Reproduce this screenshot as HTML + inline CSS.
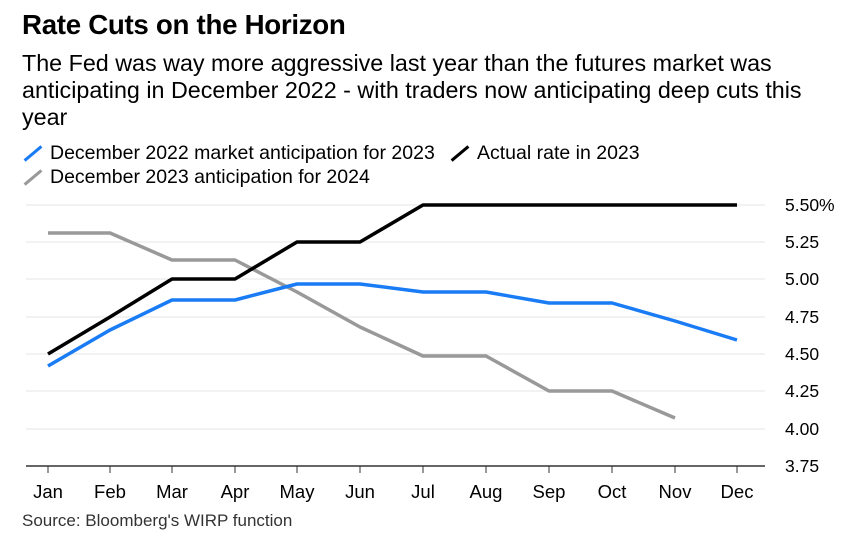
<!DOCTYPE html>
<html><head><meta charset="utf-8"><style>
body{margin:0;background:#fff;font-family:"Liberation Sans",Arial,sans-serif;}
.wrap{position:relative;width:860px;height:542px;overflow:hidden;}
h1{position:absolute;left:22px;top:9px;margin:0;font-size:27.7px;font-weight:bold;color:#000;letter-spacing:-0.3px}
.sub{position:absolute;left:22px;top:50px;width:815px;font-size:23.3px;line-height:27px;color:#000}
.leg{position:absolute;font-size:19.5px;color:#000}
.leg i{display:inline-block;width:22px;height:3px;transform:rotate(-40deg);margin-right:6px;vertical-align:middle}
</style></head><body><div class="wrap">
<h1>Rate Cuts on the Horizon</h1>
<div class="sub">The Fed was way more aggressive last year than the futures market was anticipating in December 2022 - with traders now anticipating deep cuts this year</div>
<div class="leg" style="left:22px;top:142px"><i style="background:#1a7cf5"></i>December 2022 market anticipation for 2023</div>
<div class="leg" style="left:449px;top:142px"><i style="background:#000"></i>Actual rate in 2023</div>
<div class="leg" style="left:22px;top:166px"><i style="background:#999"></i>December 2023 anticipation for 2024</div>
<svg width="860" height="542" style="position:absolute;left:0;top:0" font-family="Liberation Sans, Arial, sans-serif">
<g stroke="#e6e6e6" stroke-width="1">
<line x1="26" x2="765" y1="205" y2="205"/><line x1="26" x2="765" y1="242" y2="242"/><line x1="26" x2="765" y1="279" y2="279"/><line x1="26" x2="765" y1="317" y2="317"/><line x1="26" x2="765" y1="354" y2="354"/><line x1="26" x2="765" y1="391" y2="391"/><line x1="26" x2="765" y1="429" y2="429"/>
</g>
<line x1="26" x2="765" y1="466" y2="466" stroke="#333" stroke-width="1.5"/>
<g stroke="#333" stroke-width="1">
<line x1="48" x2="48" y1="466" y2="473"/><line x1="110" x2="110" y1="466" y2="473"/><line x1="172" x2="172" y1="466" y2="473"/><line x1="235" x2="235" y1="466" y2="473"/><line x1="297" x2="297" y1="466" y2="473"/><line x1="360" x2="360" y1="466" y2="473"/><line x1="423" x2="423" y1="466" y2="473"/><line x1="486" x2="486" y1="466" y2="473"/><line x1="549" x2="549" y1="466" y2="473"/><line x1="612" x2="612" y1="466" y2="473"/><line x1="675" x2="675" y1="466" y2="473"/><line x1="737" x2="737" y1="466" y2="473"/>
</g>
<g font-size="18.5" fill="#000" text-anchor="middle">
<text x="48" y="498">Jan</text><text x="110" y="498">Feb</text><text x="172" y="498">Mar</text><text x="235" y="498">Apr</text><text x="297" y="498">May</text><text x="360" y="498">Jun</text><text x="423" y="498">Jul</text><text x="486" y="498">Aug</text><text x="549" y="498">Sep</text><text x="612" y="498">Oct</text><text x="675" y="498">Nov</text><text x="737" y="498">Dec</text>
</g>
<g font-size="17.5" fill="#000">
<text x="785" y="211">5.50%</text><text x="785" y="248">5.25</text><text x="785" y="285">5.00</text><text x="785" y="323">4.75</text><text x="785" y="360">4.50</text><text x="785" y="397">4.25</text><text x="785" y="435">4.00</text><text x="785" y="472">3.75</text>
</g>
<g fill="none" stroke-width="3.5" stroke-linejoin="round">
<polyline stroke="#999" points="48,233 110,233 172,260 235,260 297,292 360,327 423,356 486,356 549,391 612,391 675,418"/>
<polyline stroke="#1a7cf5" points="48,366 110,330 172,300 235,300 297,284 360,284 423,292 486,292 549,303 612,303 675,321 737,340"/>
<polyline stroke="#000" points="48,354 110,317 172,279 235,279 297,242 360,242 423,205 486,205 549,205 612,205 675,205 737,205"/>
</g>
<text x="22" y="526" font-size="17" fill="#333">Source: Bloomberg's WIRP function</text>
</svg>
</div></body></html>
